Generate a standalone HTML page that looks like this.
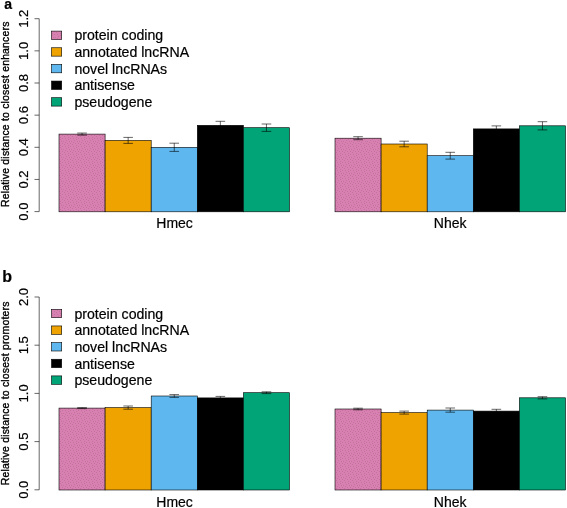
<!DOCTYPE html>
<html lang="en">
<head>
<meta charset="utf-8">
<title>Relative distance to closest enhancers and promoters</title>
<style>
html,body{margin:0;padding:0;background:#fff;}
body{width:567px;height:508px;overflow:hidden;}
svg{display:block;}
text{font-family:"Liberation Sans",Arial,Helvetica,sans-serif;fill:#000;stroke:#000;stroke-width:0.2px;}
.tick{font-size:13px;}
.leg{font-size:14.15px;}
.grp{font-size:14px;}
.ylab{font-size:10.4px;stroke:#000;stroke-width:0.35px;letter-spacing:0.22px;}
.pl{font-size:15px;font-weight:bold;}
.ln{stroke:#000000;stroke-width:0.6;fill:none;}
.bar{stroke:#000000;stroke-width:0.6;}
</style>
</head>
<body>
<svg width="567" height="508" viewBox="0 0 567 508">
<defs>
<pattern id="pk" width="8" height="8" patternUnits="userSpaceOnUse">
<rect width="8" height="8" fill="#D980B2"/>
<rect x="1" y="2" width="1" height="1" fill="#C2749A"/>
<rect x="2" y="4" width="1" height="1" fill="#C2749A"/>
<rect x="3" y="7" width="1" height="1" fill="#C2749A"/>
<rect x="6" y="2" width="1" height="1" fill="#C2749A"/>
<rect x="6" y="7" width="1" height="1" fill="#C2749A"/>
<rect x="5" y="5" width="1" height="1" fill="#C2749A"/>
<rect x="0" y="0" width="1" height="1" fill="#C2749A"/>
<rect x="4" y="1" width="1" height="1" fill="#C2749A"/>
<rect x="7" y="5" width="1" height="1" fill="#C2749A"/>
<rect x="1" y="6" width="1" height="1" fill="#C2749A"/>
<rect x="4" y="3" width="1" height="1" fill="#C2749A"/>
</pattern>
</defs>
<rect x="0" y="0" width="567" height="508" fill="#ffffff"/>

<g>
<text class="pl" x="4.2" y="9.0" style="font-size:14px">a</text>
<text class="ylab" text-anchor="middle" transform="translate(9.4,114.2) rotate(-90)">Relative distance to closest enhancers</text>
<path class="ln" d="M39.20 18.70V211.60"/>
<path class="ln" d="M34.50 211.60H39.20"/>
<text class="tick" text-anchor="middle" transform="translate(28.3,211.60) rotate(-90)">0.0</text>
<path class="ln" d="M34.50 179.45H39.20"/>
<text class="tick" text-anchor="middle" transform="translate(28.3,179.45) rotate(-90)">0.2</text>
<path class="ln" d="M34.50 147.30H39.20"/>
<text class="tick" text-anchor="middle" transform="translate(28.3,147.30) rotate(-90)">0.4</text>
<path class="ln" d="M34.50 115.15H39.20"/>
<text class="tick" text-anchor="middle" transform="translate(28.3,115.15) rotate(-90)">0.6</text>
<path class="ln" d="M34.50 83.00H39.20"/>
<text class="tick" text-anchor="middle" transform="translate(28.3,83.00) rotate(-90)">0.8</text>
<path class="ln" d="M34.50 50.85H39.20"/>
<text class="tick" text-anchor="middle" transform="translate(28.3,50.85) rotate(-90)">1.0</text>
<path class="ln" d="M34.50 18.70H39.20"/>
<text class="tick" text-anchor="middle" transform="translate(28.3,18.70) rotate(-90)">1.2</text>
<rect class="bar" x="59.00" y="134.10" width="46.10" height="77.70" fill="url(#pk)"/>
<rect class="bar" x="105.10" y="140.40" width="46.10" height="71.40" fill="#EEA300"/>
<rect class="bar" x="151.20" y="147.30" width="46.10" height="64.50" fill="#5EB8EF"/>
<rect class="bar" x="197.30" y="125.30" width="46.10" height="86.50" fill="#000000"/>
<rect class="bar" x="243.40" y="127.70" width="46.10" height="84.10" fill="#00A477"/>
<path class="ln" d="M82.05 133.05V135.15M77.25 133.05H86.85M77.25 135.15H86.85"/>
<path class="ln" d="M128.15 137.40V143.40M123.35 137.40H132.95M123.35 143.40H132.95"/>
<path class="ln" d="M174.25 143.20V151.40M169.45 143.20H179.05M169.45 151.40H179.05"/>
<path class="ln" d="M220.35 121.30V129.30M215.55 121.30H225.15M215.55 129.30H225.15"/>
<path class="ln" d="M266.45 124.00V131.40M261.65 124.00H271.25M261.65 131.40H271.25"/>
<rect class="bar" x="335.00" y="138.20" width="46.10" height="73.60" fill="url(#pk)"/>
<rect class="bar" x="381.10" y="144.00" width="46.10" height="67.80" fill="#EEA300"/>
<rect class="bar" x="427.20" y="155.70" width="46.10" height="56.10" fill="#5EB8EF"/>
<rect class="bar" x="473.30" y="128.90" width="46.10" height="82.90" fill="#000000"/>
<rect class="bar" x="519.40" y="125.80" width="46.10" height="86.00" fill="#00A477"/>
<path class="ln" d="M358.05 136.70V139.70M353.25 136.70H362.85M353.25 139.70H362.85"/>
<path class="ln" d="M404.15 141.20V146.80M399.35 141.20H408.95M399.35 146.80H408.95"/>
<path class="ln" d="M450.25 152.30V159.10M445.45 152.30H455.05M445.45 159.10H455.05"/>
<path class="ln" d="M496.35 125.90V131.90M491.55 125.90H501.15M491.55 131.90H501.15"/>
<path class="ln" d="M542.45 121.70V129.90M537.65 121.70H547.25M537.65 129.90H547.25"/>
<text class="grp" text-anchor="middle" x="174.6" y="228.3">Hmec</text>
<text class="grp" text-anchor="middle" x="450.2" y="228.3">Nhek</text>
<rect class="bar" x="51.5" y="31.10" width="10.2" height="8.4" fill="url(#pk)"/>
<text class="leg" x="74.4" y="40.45">protein coding</text>
<rect class="bar" x="51.5" y="47.75" width="10.2" height="8.4" fill="#EEA300"/>
<text class="leg" x="74.4" y="57.10">annotated lncRNA</text>
<rect class="bar" x="51.5" y="64.40" width="10.2" height="8.4" fill="#5EB8EF"/>
<text class="leg" x="74.4" y="73.75">novel lncRNAs</text>
<rect class="bar" x="51.5" y="81.05" width="10.2" height="8.4" fill="#000000"/>
<text class="leg" x="74.4" y="90.40">antisense</text>
<rect class="bar" x="51.5" y="97.70" width="10.2" height="8.4" fill="#00A477"/>
<text class="leg" x="74.4" y="107.05">pseudogene</text>
</g>
<g>
<text class="pl" x="2.3" y="282.3" style="font-size:16px">b</text>
<text class="ylab" text-anchor="middle" transform="translate(9.4,393.3) rotate(-90)">Relative distance to closest promoters</text>
<path class="ln" d="M39.20 297.00V489.80"/>
<path class="ln" d="M34.50 489.80H39.20"/>
<text class="tick" text-anchor="middle" transform="translate(28.3,489.80) rotate(-90)">0.0</text>
<path class="ln" d="M34.50 441.60H39.20"/>
<text class="tick" text-anchor="middle" transform="translate(28.3,441.60) rotate(-90)">0.5</text>
<path class="ln" d="M34.50 393.40H39.20"/>
<text class="tick" text-anchor="middle" transform="translate(28.3,393.40) rotate(-90)">1.0</text>
<path class="ln" d="M34.50 345.20H39.20"/>
<text class="tick" text-anchor="middle" transform="translate(28.3,345.20) rotate(-90)">1.5</text>
<path class="ln" d="M34.50 297.00H39.20"/>
<text class="tick" text-anchor="middle" transform="translate(28.3,297.00) rotate(-90)">2.0</text>
<rect class="bar" x="59.00" y="408.10" width="46.10" height="81.90" fill="url(#pk)"/>
<rect class="bar" x="105.10" y="407.60" width="46.10" height="82.40" fill="#EEA300"/>
<rect class="bar" x="151.20" y="396.00" width="46.10" height="94.00" fill="#5EB8EF"/>
<rect class="bar" x="197.30" y="397.90" width="46.10" height="92.10" fill="#000000"/>
<rect class="bar" x="243.40" y="392.70" width="46.10" height="97.30" fill="#00A477"/>
<path class="ln" d="M82.05 407.60V408.60M77.25 407.60H86.85M77.25 408.60H86.85"/>
<path class="ln" d="M128.15 406.00V409.20M123.35 406.00H132.95M123.35 409.20H132.95"/>
<path class="ln" d="M174.25 394.60V397.40M169.45 394.60H179.05M169.45 397.40H179.05"/>
<path class="ln" d="M220.35 396.40V399.40M215.55 396.40H225.15M215.55 399.40H225.15"/>
<path class="ln" d="M266.45 391.80V393.60M261.65 391.80H271.25M261.65 393.60H271.25"/>
<rect class="bar" x="335.00" y="409.00" width="46.10" height="81.00" fill="url(#pk)"/>
<rect class="bar" x="381.10" y="412.60" width="46.10" height="77.40" fill="#EEA300"/>
<rect class="bar" x="427.20" y="410.10" width="46.10" height="79.90" fill="#5EB8EF"/>
<rect class="bar" x="473.30" y="411.10" width="46.10" height="78.90" fill="#000000"/>
<rect class="bar" x="519.40" y="397.80" width="46.10" height="92.20" fill="#00A477"/>
<path class="ln" d="M358.05 408.20V409.80M353.25 408.20H362.85M353.25 409.80H362.85"/>
<path class="ln" d="M404.15 411.10V414.10M399.35 411.10H408.95M399.35 414.10H408.95"/>
<path class="ln" d="M450.25 408.00V412.20M445.45 408.00H455.05M445.45 412.20H455.05"/>
<path class="ln" d="M496.35 409.30V412.90M491.55 409.30H501.15M491.55 412.90H501.15"/>
<path class="ln" d="M542.45 396.70V398.90M537.65 396.70H547.25M537.65 398.90H547.25"/>
<text class="grp" text-anchor="middle" x="174.6" y="506.5">Hmec</text>
<text class="grp" text-anchor="middle" x="450.2" y="506.5">Nhek</text>
<rect class="bar" x="51.5" y="309.30" width="10.2" height="8.4" fill="url(#pk)"/>
<text class="leg" x="74.4" y="318.65">protein coding</text>
<rect class="bar" x="51.5" y="325.95" width="10.2" height="8.4" fill="#EEA300"/>
<text class="leg" x="74.4" y="335.30">annotated lncRNA</text>
<rect class="bar" x="51.5" y="342.60" width="10.2" height="8.4" fill="#5EB8EF"/>
<text class="leg" x="74.4" y="351.95">novel lncRNAs</text>
<rect class="bar" x="51.5" y="359.25" width="10.2" height="8.4" fill="#000000"/>
<text class="leg" x="74.4" y="368.60">antisense</text>
<rect class="bar" x="51.5" y="375.90" width="10.2" height="8.4" fill="#00A477"/>
<text class="leg" x="74.4" y="385.25">pseudogene</text>
</g>
</svg>
</body>
</html>
